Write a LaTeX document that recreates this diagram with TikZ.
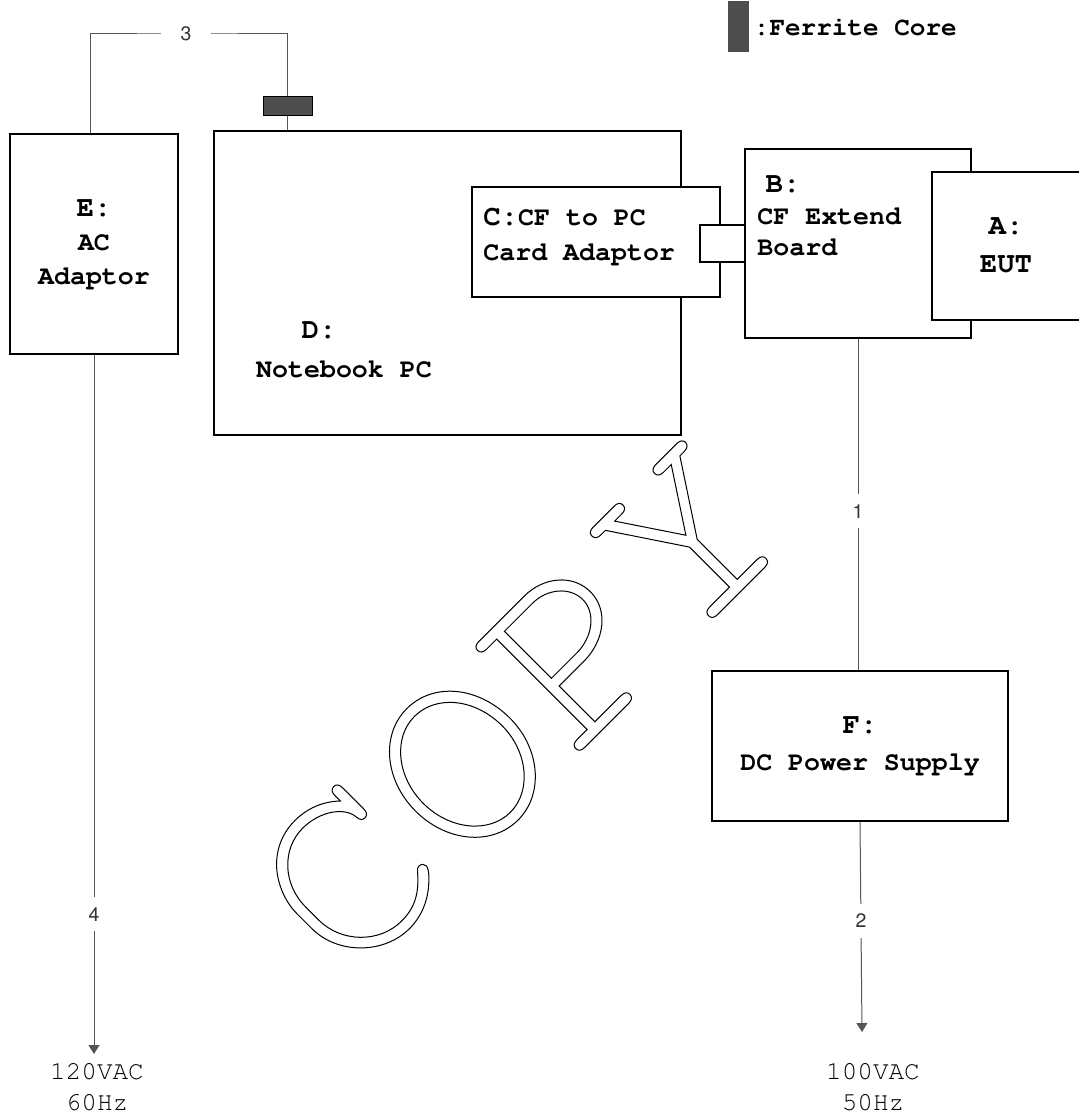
\documentclass[tikz,border=0pt]{standalone}
\usepackage[T1]{fontenc}
\renewcommand{\ttdefault}{pcr}
\usetikzlibrary{arrows.meta, positioning}
\definecolor{wiregray}{HTML}{555555}
\definecolor{coregray}{HTML}{4D4D4D}
\newcommand{\tagfont}{\fontsize{14.5}{17}\selectfont}
\newcommand{\numfont}{\fontfamily{phv}\selectfont}
\newcommand{\outlined}[1]{%
    \special{pdf:literal direct 1 Tr 0.5 w}#1\special{pdf:literal direct 0 Tr}%
}

\begin{document}
\begin{tikzpicture}[
        x=0.5pt, y=-0.5pt,
        unit/.style={
            draw=black,
            line width=1pt,
            fill=white,
            inner sep=0pt,
            align=center,
            font=\fontsize{13.3}{17}\selectfont\ttfamily\bfseries
        },
        boxtext/.style={inner sep=0pt, align=left, font=\fontsize{13.3}{#1}\selectfont\ttfamily\bfseries},
        wire/.style={draw=wiregray, line width=0.5pt},
        power/.style={wire, -{Triangle[length=4.5pt, width=5.5pt]}},
        cablenum/.style={fill=white, inner xsep=10pt, inner ysep=5pt, text=black!80,
            font=\fontsize{9.75}{11}\numfont},
        core/.style={draw=black!70, fill=coregray, line width=0.5pt, inner sep=0pt},
        mains/.style={align=center, inner sep=0pt, font=\fontsize{13}{15.5}\selectfont\ttfamily}
    ]
        \useasboundingbox (0,0) rectangle (1078,1118);

        % watermark
        \node[rotate=45, inner sep=0pt, font=\fontsize{133}{133}\selectfont\ttfamily] (stamp) at (517,706) {\outlined{COPY}};

        % units
        \node[unit, minimum width=84pt, minimum height=110pt] (adaptor) at (94,244) {{\tagfont E:}\\AC\\Adaptor};
        \node[unit, fill=none, minimum width=233.5pt, minimum height=152pt] (notebook) at (447.5,283) {};
        \node[boxtext=19] (dtag) at (319,331) {\tagfont D:};
        \node[boxtext=19] (dname) at (344,369) {Notebook PC};

        \node[unit, minimum width=124pt, minimum height=55pt] (cardadaptor) at (596,242) {};
        \node[boxtext=17.5, anchor=west] (cname) at (483,236.5) {{\tagfont C:}CF to PC\\Card Adaptor};

        \node[unit, minimum width=113pt, minimum height=94.5pt] (board) at (858,243.5) {};
        \node[boxtext=16] (btag) at (783,185) {\tagfont B:};
        \node[boxtext=15.5, anchor=west] (bname) at (757,231.5) {CF Extend\\Board};

        % card slot between C and B
        \node[fill=white, inner sep=0pt, minimum width=22pt, minimum height=18.5pt] (slot) at (722,243.5) {};
        \draw[line width=1pt] (slot.north east) -- (slot.north west) -- (slot.south west) -- (slot.south east);

        \node[unit, minimum width=74pt, minimum height=74pt] (eut) at (1006,246) {{\tagfont A:}\\[2pt]{\tagfont EUT}};

        \node[unit, minimum width=148pt, minimum height=75pt] (supply) at (860,746) {{\tagfont F:}\\[1.5pt]DC Power Supply};

        % ferrite core legend
        \node[core, minimum width=10pt, minimum height=25pt] (legendcore) at (738,27) {};
        \node[right=2.5pt of legendcore, inner sep=0pt, font=\fontsize{13}{15}\selectfont\ttfamily\bfseries] (legendtext) {:Ferrite Core};

        % cables
        \node[core, draw=black, minimum width=24.5pt, minimum height=9.5pt] (core3) at (287.5,106.5) {};
        \coordinate (wiretop) at (186,34);
        \draw[wire] ([xshift=-2pt]adaptor.north) |- (wiretop) node[cablenum] {3} -| (core3.north);
        \draw[wire] (core3.south) -- (core3.south |- notebook.north);

        \draw[wire] (board.south) -- node[cablenum, pos=0.52] {1} (board.south |- supply.north);

        \coordinate (tipF) at (862,1032);
        \draw[power] (supply.south) -- node[cablenum, pos=0.47] {2} (tipF);
        \coordinate (tipE) at (94,1054);
        \draw[power] (adaptor.south) -- node[cablenum, pos=0.8] {4} (tipE);

        \node[mains] (mainsE) at (97,1086.5) {120VAC\\60Hz};
        \node[mains] (mainsF) at (873,1086.5) {100VAC\\50Hz};
    \end{tikzpicture}
\end{document}
